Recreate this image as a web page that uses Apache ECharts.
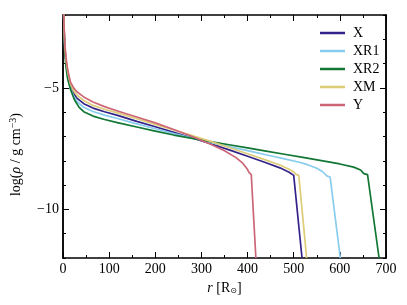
<!DOCTYPE html>
<html><head><meta charset="utf-8">
<script src="https://cdn.jsdelivr.net/npm/echarts@6/dist/echarts.min.js"></script>
<style>html,body{margin:0;padding:0;background:#fff}#c{width:407px;height:305px}</style>
</head><body><div id="c"></div>
<script>
const seriesNames = ['X', 'XR1', 'XR2', 'XM', 'Y'];
const colors = ['#332288', '#88CCEE', '#117733', '#DDCC77', '#CC6677'];
const xTicks = [0, 100, 200, 300, 400, 500, 600, 700];
const yTicks = [-10, -5];

const dataX = [[0.3,-0.8],[1,-1.55],[2,-2.4],[4,-3.35],[6.5,-3.91],[9,-4.3],[12,-4.6],[16,-4.92],[23,-5.22],[30,-5.42],[45,-5.65],[65,-5.83],[90,-5.98],[120,-6.14],[160,-6.38],[200,-6.6],[240,-6.83],[280,-7.06],[320,-7.3],[360,-7.55],[400,-7.81],[440,-8.08],[470,-8.29],[490,-8.47],[500,-8.6],[502,-8.66],[518,-12]];
const dataXR1 = [[0.3,-0.8],[1,-1.58],[2,-2.45],[4,-3.45],[6.5,-4.01],[9,-4.42],[12,-4.74],[16,-5.0],[23,-5.33],[30,-5.56],[45,-5.8],[65,-5.97],[90,-6.12],[120,-6.27],[160,-6.48],[200,-6.68],[240,-6.88],[280,-7.06],[320,-7.24],[360,-7.41],[400,-7.58],[440,-7.75],[480,-7.92],[510,-8.05],[530,-8.16],[550,-8.31],[562,-8.44],[572,-8.62],[576,-8.55],[579,-8.68],[601,-12]];
const dataXR2 = [[0.3,-0.8],[1,-1.6],[2,-2.5],[4,-3.55],[6.5,-4.14],[10,-4.62],[16,-5.05],[25,-5.5],[35,-5.8],[45,-5.98],[65,-6.16],[90,-6.3],[120,-6.44],[160,-6.61],[200,-6.78],[240,-6.94],[280,-7.08],[320,-7.21],[360,-7.34],[400,-7.47],[440,-7.6],[480,-7.73],[520,-7.86],[560,-7.99],[600,-8.13],[630,-8.26],[645,-8.38],[652,-8.53],[656,-8.45],[660,-8.57],[685,-12]];
const dataXM = [[0.3,-0.8],[1,-1.52],[2,-2.35],[4,-3.28],[6.5,-3.83],[9,-4.2],[12,-4.5],[16,-4.82],[23,-5.12],[30,-5.3],[45,-5.52],[65,-5.72],[90,-5.88],[120,-6.04],[160,-6.27],[200,-6.5],[240,-6.73],[280,-6.96],[320,-7.2],[360,-7.45],[400,-7.71],[440,-7.97],[470,-8.17],[490,-8.35],[500,-8.46],[505,-8.56],[508,-8.48],[511,-8.6],[528,-12]];
const dataY = [[0.3,-0.8],[1,-1.5],[2,-2.3],[4,-3.2],[6.5,-3.75],[9,-4.1],[12,-4.42],[16,-4.75],[23,-5.0],[30,-5.16],[45,-5.37],[65,-5.58],[90,-5.77],[120,-5.96],[160,-6.2],[200,-6.44],[240,-6.71],[280,-7.0],[320,-7.32],[350,-7.59],[375,-7.87],[390,-8.11],[400,-8.36],[403,-8.48],[405,-8.41],[408,-8.57],[418,-12]];
const allData = [dataX, dataXR1, dataXR2, dataXM, dataY];

const font = 'Liberation Serif';
const minus = v => String(v).replace('-', '\u2212');
const line = {show: true, onZero: false, lineStyle: {color: '#000', width: 1.5}};
const tickStyle = {color: '#000', width: 1};
function xAx(pos, labels) {
  const a = {
    type: 'value', min: 0, max: 700, interval: 100, position: pos,
    axisLine: line, splitLine: {show: false},
    axisTick: {show: true, inside: true, length: 6, lineStyle: tickStyle},
    minorTick: {show: true, splitNumber: 2, length: 3, lineStyle: tickStyle},
    axisLabel: {show: labels, fontFamily: font, fontSize: 14, color: '#000', margin: 4, formatter: v => String(v)}
  };
  if (labels) {
    a.name = '{i|r} [R{s|\u2299}]';
    a.nameLocation = 'middle'; a.nameGap = 16;
    a.nameTextStyle = {fontFamily: font, fontSize: 14, color: '#000',
      rich: {i: {fontFamily: font, fontSize: 14, fontStyle: 'italic'}, s: {fontFamily: 'DejaVu Sans', fontSize: 8, verticalAlign: 'bottom', padding: [6, 0, 0, 0]}}};
  }
  return a;
}
function yMinor(pos) {
  return {
    type: 'value', min: -12, max: -2, interval: 1, position: pos,
    axisLine: line, splitLine: {show: false},
    axisTick: {show: true, inside: true, length: 3, lineStyle: tickStyle},
    axisLabel: {show: false}
  };
}
function yMajor(pos, labels) {
  const a = {
    type: 'value', min: -12, max: -2, interval: 1, position: pos,
    axisLine: line, splitLine: {show: false},
    axisTick: {show: true, inside: true, length: 6, lineStyle: tickStyle, customValues: yTicks},
    axisLabel: {show: labels, customValues: yTicks, fontFamily: font, fontSize: 14, color: '#000', margin: 4, formatter: v => minus(v)}
  };
  if (labels) {
    a.name = '{a|log(}{i|\u03c1}{a| / g cm}{s|\u22123}{a|)}';
    a.nameLocation = 'middle'; a.nameGap = 39; a.nameRotate = 90;
    a.nameTextStyle = {fontFamily: font, fontSize: 14, color: '#000', padding: [0, 36, 0, 0],
      rich: {a: {fontFamily: font, fontSize: 14}, i: {fontFamily: font, fontSize: 14, fontStyle: 'italic'}, s: {fontFamily: font, fontSize: 10, verticalAlign: 'top', padding: [0, 0, 6, 0]}}};
  }
  return a;
}
const chart = echarts.init(document.getElementById('c'), null, {renderer: 'canvas'});
chart.setOption({
  animation: false,
  backgroundColor: '#fff',
  grid: {left: 61, right: 21, top: 15, bottom: 47},
  legend: {
    orient: 'vertical', left: 315, top: 21, icon: 'rect', itemWidth: 25, itemHeight: 2.5, itemGap: 4,
    textStyle: {fontFamily: font, fontSize: 14, color: '#000', padding: [0, 0, 0, 3]},
    data: seriesNames
  },
  xAxis: [xAx('bottom', true), xAx('top', false)],
  yAxis: [yMajor('left', true), yMinor('left'), yMajor('right', false), yMinor('right')],
  series: seriesNames.map((n, i) => ({
    name: n, type: 'line', data: allData[i], showSymbol: false, symbol: 'none',
    smooth: false, clip: true,
    xAxisIndex: 0, yAxisIndex: 0,
    lineStyle: {color: colors[i], width: 1.7, join: 'round'}, itemStyle: {color: colors[i]}
  }))
});
</script></body></html>
